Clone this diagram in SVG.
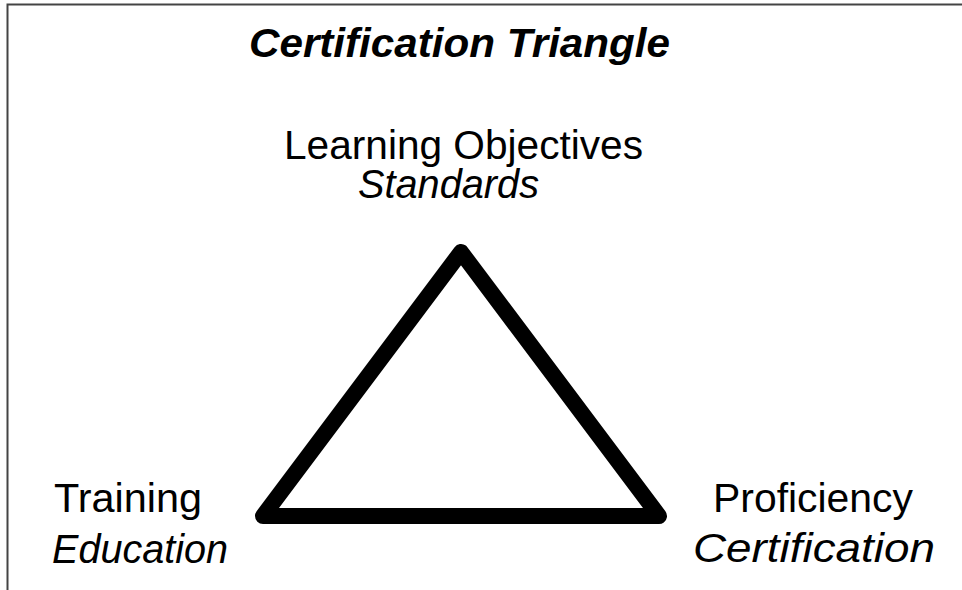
<svg xmlns="http://www.w3.org/2000/svg" width="962" height="590" viewBox="0 0 962 590">
<style>
.t{font-family:"Liberation Sans",Arial,sans-serif;font-size:40px;fill:#000}
.i{font-style:italic}
.b{font-weight:bold}
</style>
<rect x="0" y="0" width="962" height="590" fill="#fff"/>
<path d="M7.5,590 V4.5 H962" fill="none" stroke="#444" stroke-width="2"/>
<text class="t i b" x="249" y="57" textLength="421" lengthAdjust="spacingAndGlyphs">Certification Triangle</text>
<g id="connectors">
<path d="M461,252 L659,516 L263,516 Z" fill="none" stroke="#000" stroke-width="16" stroke-linejoin="round"/>
</g>
<g id="node-top">
<text class="t" x="284" y="159" textLength="359" lengthAdjust="spacingAndGlyphs">Learning Objectives</text>
<text class="t i" x="358" y="198" textLength="181" lengthAdjust="spacingAndGlyphs">Standards</text>
</g>
<g id="node-left">
<text class="t" x="54" y="512" textLength="148" lengthAdjust="spacingAndGlyphs">Training</text>
<text class="t i" x="52" y="563" textLength="176" lengthAdjust="spacingAndGlyphs">Education</text>
</g>
<g id="node-right">
<text class="t" x="713" y="512" textLength="200" lengthAdjust="spacingAndGlyphs">Proficiency</text>
<text class="t i" x="693" y="562" textLength="242" lengthAdjust="spacingAndGlyphs">Certification</text>
</g>
</svg>
